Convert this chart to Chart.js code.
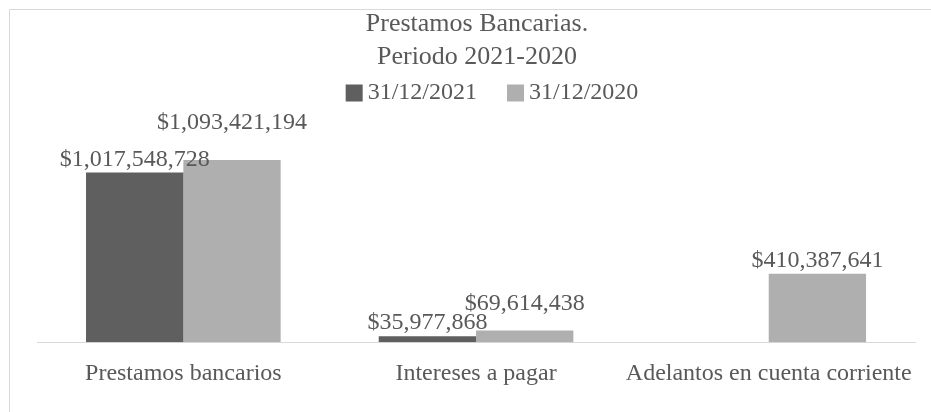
<!DOCTYPE html>
<html>
<head>
<meta charset="utf-8">
<script src="https://cdn.jsdelivr.net/npm/chart.js@4/dist/chart.umd.min.js"></script>
<style>
  html, body { margin: 0; padding: 0; background: #ffffff; }
  #wrap { width: 931px; height: 412px; position: relative; }
</style>
</head>
<body>
<div id="wrap"><canvas id="c" width="931" height="412"></canvas></div>
<script>
const categories = ['Prestamos bancarios', 'Intereses a pagar', 'Adelantos en cuenta corriente'];
const seriesNames = ['31/12/2021', '31/12/2020'];
const values2021 = [1017548728, 35977868, null];
const values2020 = [1093421194, 69614438, 410387641];
const titleLines = ['Prestamos Bancarias.', 'Periodo 2021-2020'];

const FONT = "'Liberation Serif', 'Times New Roman', serif";
const TEXT = '#595959';

const fmt = v => '$' + Math.round(v).toLocaleString('en-US');

const frame = {
  id: 'frame',
  beforeDraw(chart) {
    const ctx = chart.ctx;
    ctx.save();
    ctx.fillStyle = '#ffffff';
    ctx.fillRect(0, 0, chart.width, chart.height);
    ctx.strokeStyle = '#d9d9d9';
    ctx.lineWidth = 1;
    ctx.beginPath();
    ctx.moveTo(9.5, chart.height);
    ctx.lineTo(9.5, 9.5);
    ctx.lineTo(chart.width, 9.5);
    ctx.stroke();
    ctx.restore();
  }
};

const customLegend = {
  id: 'customLegend',
  afterDraw(chart, args, opts) {
    const ctx = chart.ctx;
    ctx.save();
    ctx.font = opts.font;
    ctx.textBaseline = 'middle';
    ctx.textAlign = 'left';
    const items = chart.data.datasets.map(ds => ({
      text: ds.label, color: ds.backgroundColor, w: ctx.measureText(ds.label).width
    }));
    let total = 0;
    items.forEach((it, i) => {
      total += opts.box + opts.textGap + it.w + (i < items.length - 1 ? opts.itemGap : 0);
    });
    let x = opts.centerX - total / 2;
    const y = opts.centerY;
    items.forEach(it => {
      ctx.fillStyle = it.color;
      ctx.fillRect(x, y - opts.box / 2, opts.box, opts.box);
      x += opts.box + opts.textGap;
      ctx.fillStyle = opts.color;
      ctx.fillText(it.text, x, y);
      x += it.w + opts.itemGap;
    });
    ctx.restore();
  }
};

const valueLabels = {
  id: 'valueLabels',
  afterDatasetsDraw(chart, args, opts) {
    const ctx = chart.ctx;
    ctx.save();
    ctx.font = opts.font;
    ctx.fillStyle = opts.color;
    ctx.textAlign = 'center';
    ctx.textBaseline = 'alphabetic';
    chart.data.datasets.forEach((ds, di) => {
      const meta = chart.getDatasetMeta(di);
      meta.data.forEach((bar, i) => {
        const v = ds.data[i];
        if (v === null || v === undefined) return;
        const lift = (opts.lift[di] && opts.lift[di][i]) || 0;
        ctx.fillText(fmt(v), bar.x, bar.y - opts.gap - lift);
      });
    });
    ctx.restore();
  }
};

new Chart(document.getElementById('c'), {
  type: 'bar',
  data: {
    labels: categories,
    datasets: [
      { label: seriesNames[0], data: values2021, backgroundColor: '#5f5f5f', borderWidth: 0 },
      { label: seriesNames[1], data: values2020, backgroundColor: '#afafaf', borderWidth: 0 }
    ]
  },
  options: {
    responsive: false,
    animation: false,
    devicePixelRatio: 1,
    layout: { padding: { left: 37, right: 14, top: 0, bottom: 7 } },
    datasets: { bar: { categoryPercentage: 0.665, barPercentage: 1.0 } },
    plugins: {
      title: {
        display: true,
        text: titleLines,
        color: TEXT,
        font: { family: FONT, size: 26, weight: 'normal', lineHeight: 1.25 },
        padding: { top: 8, bottom: 42 }
      },
      legend: { display: false },
      tooltip: { enabled: false },
      customLegend: {
        font: "24px " + FONT,
        color: TEXT,
        box: 17,
        textGap: 5,
        itemGap: 30,
        centerX: 492,
        centerY: 93
      },
      valueLabels: {
        font: "24px " + FONT,
        color: TEXT,
        gap: 7,
        lift: [[0, 0, 0], [24, 14, 0]]
      }
    },
    scales: {
      x: {
        grid: { display: false, drawTicks: false },
        border: { display: true, color: '#d9d9d9', width: 1 },
        ticks: { color: TEXT, font: { family: FONT, size: 24 }, padding: 17, maxRotation: 0 }
      },
      y: {
        display: false,
        min: 0,
        max: 1363000000
      }
    }
  },
  plugins: [frame, customLegend, valueLabels]
});
</script>
</body>
</html>
